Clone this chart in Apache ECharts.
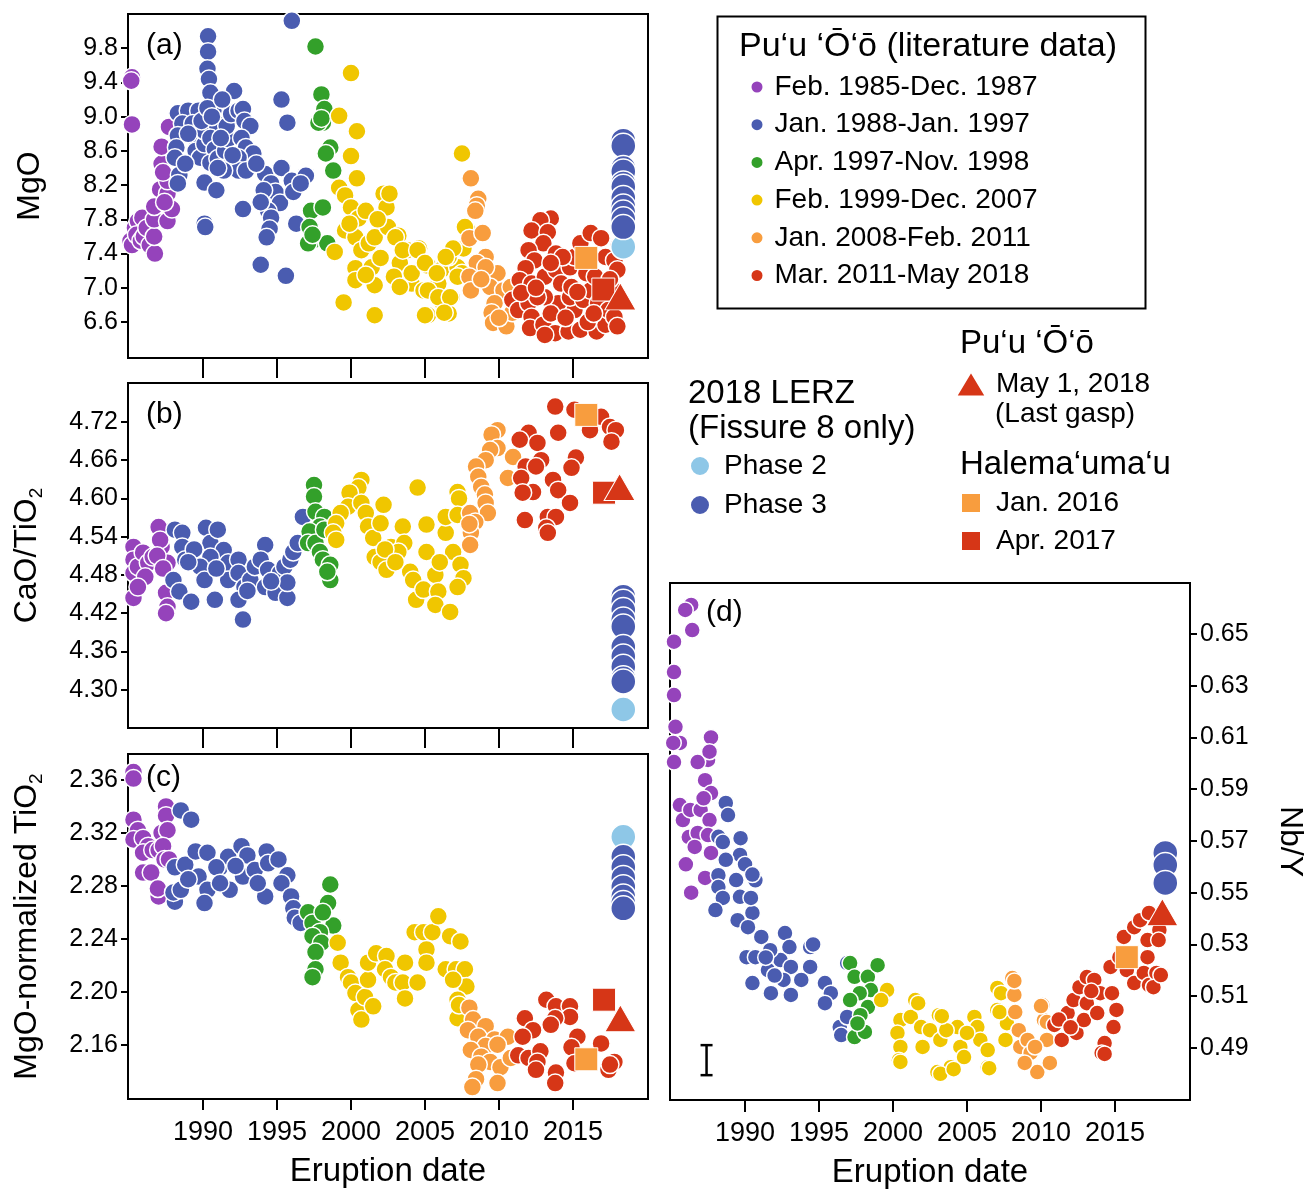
<!DOCTYPE html>
<html>
<head>
<meta charset="UTF-8">
<title>Kilauea lava chemistry</title>
<script src="https://cdn.jsdelivr.net/npm/echarts@6/dist/echarts.min.js"></script>
<style>
body, html { margin: 0; padding: 0; background: #fff; }
#chart { width: 1307px; height: 1191px; }
</style>
</head>
<body>
<div id="chart"></div>
<script>
// ---- data: [eruption year, value] ----
var yearTicks = [1990, 1995, 2000, 2005, 2010, 2015];
var mgoTicks = [6.6, 7.0, 7.4, 7.8, 8.2, 8.6, 9.0, 9.4, 9.8];
var caoTicks = [4.30, 4.36, 4.42, 4.48, 4.54, 4.60, 4.66, 4.72];
var tioTicks = [2.16, 2.20, 2.24, 2.28, 2.32, 2.36];
var nbyTicks = [0.49, 0.51, 0.53, 0.55, 0.57, 0.59, 0.61, 0.63, 0.65];

// (a) MgO
var mgo85 = [[1985.2,9.46],[1985.15,9.42],[1985.2,8.91],[1985.1,7.55],[1985.2,7.5],[1985.4,7.7],[1985.6,7.78],[1985.5,7.62],[1985.8,7.55],[1985.9,7.82],[1986.0,7.6],[1986.2,7.7],[1986.4,7.5],[1986.75,7.4],[1986.7,7.6],[1986.7,7.8],[1986.7,7.95],[1987.1,8.15],[1987.2,8.45],[1987.2,8.65],[1987.6,8.1],[1987.6,7.78],[1987.9,7.92],[1987.7,8.88],[1987.6,8.25],[1987.3,8.35],[1987.4,8.0]];
var mgo88 = [[1996.0,10.12],[1990.34,9.94],[1990.34,9.76],[1990.3,9.56],[1990.4,9.44],[1990.5,9.28],[1992.1,9.3],[1995.3,9.2],[1995.7,8.93],[1988.3,9.04],[1989.0,9.07],[1989.7,9.07],[1988.6,8.92],[1988.3,8.78],[1988.2,8.64],[1988.1,8.52],[1988.4,8.32],[1988.3,8.22],[1989.3,8.92],[1989.5,8.75],[1989.5,8.6],[1989.8,8.52],[1990.1,8.68],[1990.1,8.83],[1990.7,9.07],[1990.9,8.92],[1990.5,8.75],[1990.8,8.62],[1990.5,8.46],[1991.0,8.51],[1991.5,8.6],[1991.7,8.74],[1991.6,8.89],[1991.9,9.03],[1992.4,9.07],[1992.7,9.09],[1992.8,8.95],[1993.2,8.89],[1992.6,8.75],[1992.9,8.64],[1993.4,8.57],[1992.4,8.52],[1991.7,8.4],[1992.4,8.37],[1992.9,8.37],[1991.4,8.37],[1991.0,8.4],[1990.1,8.23],[1990.9,8.14],[1990.1,7.75],[1990.15,7.71],[1992.7,7.92],[1994.2,8.33],[1994.6,8.22],[1995.3,8.4],[1994.9,8.12],[1995.2,7.99],[1994.4,7.9],[1994.6,7.82],[1994.5,7.69],[1994.3,7.59],[1996.0,8.25],[1996.1,8.12],[1996.95,8.31],[1996.6,8.22],[1996.3,7.75],[1993.9,7.27],[1995.6,7.14],[1994.1,8.14],[1993.9,8.0],[1989.0,8.8],[1989.9,8.95],[1991.2,8.75],[1992.0,8.55],[1993.6,8.45],[1988.8,8.45],[1990.3,9.1],[1991.3,9.2],[1990.6,9.0]];
var mgo97 = [[1997.6,9.82],[1998.0,9.26],[1998.2,9.09],[1998.1,8.93],[1997.8,8.93],[1998.6,8.64],[1998.3,8.57],[1998.8,8.37],[1997.3,7.9],[1998.1,7.94],[1997.2,7.71],[1997.5,7.56],[1997.1,7.52],[1998.4,7.52],[1997.4,7.62],[1998.0,8.98]];
var mgo99 = [[2000.0,9.51],[1999.2,9.01],[2000.4,8.83],[2000.0,8.54],[2000.4,8.28],[1999.2,8.17],[1999.6,8.08],[2000.0,7.94],[2000.5,7.81],[2001.0,7.9],[1999.6,7.67],[2000.3,7.59],[2000.7,7.44],[2001.2,7.52],[2001.6,7.59],[2002.3,8.06],[1998.9,7.42],[2000.3,7.23],[2001.4,7.24],[2000.3,7.09],[2001.6,7.03],[1999.5,6.83],[2001.6,6.68],[2002.2,8.1],[2002.4,7.94],[2002.5,7.71],[2003.2,7.61],[2003.8,7.44],[2004.6,7.46],[2003.3,7.29],[2002.9,7.13],[2004.1,7.05],[2005.2,7.26],[2004.9,6.97],[2006.1,7.21],[2005.9,7.05],[2006.8,6.89],[2006.6,6.7],[2005.2,6.68],[2006.2,6.82],[2007.2,7.24],[2007.6,7.46],[2007.9,7.67],[2007.5,8.57],[2007.5,7.17],[2006.6,7.36],[2002.6,8.1],[2003.0,7.59],[2003.5,7.44],[2004.5,7.44],[2004.1,7.17],[2005.0,7.29],[2005.8,7.17],[2005.2,6.97],[2005.9,6.89],[2006.7,6.89],[2005.0,6.68],[2006.3,6.71],[2006.9,7.46],[2006.4,7.36],[2007.7,7.71],[2007.2,7.13],[2003.3,7.01],[1999.9,7.75],[2001.8,7.8],[2002.0,7.35],[2001.0,7.15]];
var mgo08 = [[2008.1,8.28],[2008.6,8.04],[2008.5,7.96],[2008.4,7.9],[2008.0,7.58],[2008.9,7.64],[2009.1,7.36],[2008.5,7.29],[2008.0,7.13],[2009.9,7.17],[2009.4,7.01],[2008.1,6.97],[2010.3,6.97],[2009.7,6.82],[2009.5,6.71],[2009.6,6.59],[2010.5,6.55],[2010.9,6.71],[2010.8,7.01],[2009.1,7.24],[2008.8,7.1],[2010.0,6.65]];
var mgo11 = [[2013.5,7.81],[2012.8,7.79],[2012.2,7.67],[2013.3,7.65],[2013.0,7.52],[2013.85,7.4],[2012.0,7.44],[2012.4,7.32],[2011.8,7.23],[2011.4,7.09],[2012.2,7.05],[2013.1,7.13],[2013.85,7.21],[2014.2,7.05],[2014.8,7.24],[2015.1,7.36],[2015.5,7.52],[2016.2,7.64],[2016.9,7.58],[2017.2,7.36],[2017.8,7.32],[2018.0,7.21],[2010.9,6.86],[2011.3,6.74],[2012.0,6.82],[2012.2,6.66],[2012.1,6.53],[2013.0,6.57],[2013.8,6.47],[2013.1,6.45],[2014.7,6.49],[2015.5,6.51],[2016.6,6.49],[2017.2,6.57],[2016.0,6.6],[2015.1,6.74],[2014.0,6.82],[2013.1,6.89],[2014.8,6.89],[2015.7,6.86],[2016.2,6.97],[2016.7,6.82],[2017.4,6.74],[2017.8,6.66],[2018.0,6.55],[2015.9,7.17],[2014.9,7.01],[2016.5,7.13],[2012.6,6.89],[2011.5,6.94],[2014.3,7.36],[2013.5,7.29],[2012.5,7.0],[2013.5,6.7],[2014.5,6.65],[2015.3,6.95],[2016.4,6.7],[2017.6,7.0],[2018.1,7.5],[2017.5,7.1]];
var mgoPhase2 = [[2018.4,7.48]];
var mgoPhase3 = [[2018.4,8.72],[2018.4,8.66],[2018.4,8.4],[2018.4,8.36],[2018.4,8.22],[2018.4,8.18],[2018.4,8.05],[2018.4,7.95],[2018.4,7.88],[2018.4,7.8],[2018.4,7.71]];
var mgoJan2016 = [[2015.9,7.35]];
var mgoApr2017 = [[2017.05,6.98]];
var mgoLastGasp = [[2018.2,6.9]];

// (b) CaO/TiO2
var cao85 = [[1985.3,4.524],[1985.3,4.504],[1985.3,4.483],[1985.3,4.444],[1985.6,4.493],[1985.95,4.515],[1986.3,4.499],[1986.6,4.508],[1987.0,4.555],[1987.2,4.524],[1987.6,4.499],[1987.5,4.452],[1987.6,4.43],[1987.5,4.42],[1987.1,4.535],[1986.1,4.477],[1985.6,4.461],[1986.9,4.51],[1987.3,4.49]];
var cao88 = [[1988.1,4.551],[1988.6,4.546],[1988.6,4.524],[1988.8,4.504],[1988.0,4.472],[1988.4,4.454],[1989.2,4.438],[1990.2,4.554],[1990.5,4.53],[1991.4,4.519],[1990.5,4.508],[1989.8,4.493],[1990.1,4.472],[1990.8,4.441],[1991.7,4.499],[1992.4,4.504],[1991.7,4.472],[1992.4,4.483],[1992.8,4.461],[1992.4,4.441],[1992.7,4.41],[1993.2,4.472],[1993.5,4.493],[1994.2,4.527],[1993.9,4.504],[1994.4,4.488],[1994.2,4.461],[1994.9,4.452],[1995.7,4.444],[1995.2,4.483],[1995.5,4.493],[1995.9,4.504],[1996.1,4.516],[1996.4,4.53],[1996.75,4.571],[1995.7,4.468],[1989.4,4.52],[1991.0,4.551],[1989.0,4.5],[1990.9,4.49],[1993.0,4.455],[1994.6,4.47]];
var cao97 = [[1997.5,4.621],[1997.5,4.603],[1997.6,4.579],[1998.2,4.571],[1997.9,4.556],[1997.2,4.548],[1997.1,4.53],[1997.6,4.53],[1998.2,4.551],[1997.9,4.516],[1998.1,4.504],[1998.6,4.496],[1998.6,4.472],[1998.4,4.485]];
var cao99 = [[2000.7,4.629],[2000.5,4.617],[1999.9,4.609],[1999.8,4.587],[1999.3,4.577],[1999.0,4.561],[1998.8,4.546],[1999.0,4.535],[2000.7,4.593],[2001.0,4.577],[2001.15,4.556],[2001.5,4.538],[2002.2,4.59],[2002.0,4.561],[2001.6,4.508],[2002.0,4.5],[2002.4,4.488],[2002.7,4.524],[2003.5,4.556],[2003.6,4.53],[2003.2,4.516],[2004.0,4.485],[2004.2,4.472],[2004.4,4.441],[2004.5,4.617],[2005.1,4.559],[2005.1,4.516],[2004.9,4.457],[2005.7,4.48],[2005.9,4.454],[2005.7,4.433],[2006.7,4.422],[2006.4,4.546],[2006.4,4.571],[2007.2,4.61],[2007.3,4.6],[2006.9,4.516],[2007.4,4.496],[2007.6,4.475],[2007.2,4.461],[2007.2,4.574],[2002.3,4.52],[2003.0,4.5],[2006.0,4.5]];
var cao08 = [[2009.9,4.707],[2009.5,4.7],[2009.9,4.679],[2009.4,4.676],[2010.95,4.665],[2009.1,4.66],[2008.45,4.65],[2008.6,4.634],[2010.6,4.632],[2008.8,4.618],[2009.05,4.606],[2009.1,4.593],[2009.25,4.577],[2008.05,4.577],[2008.4,4.563],[2008.1,4.546],[2008.05,4.527],[2008.0,4.56]];
var cao11 = [[2013.8,4.744],[2015.1,4.739],[2016.9,4.728],[2017.5,4.712],[2017.9,4.707],[2017.6,4.689],[2016.15,4.707],[2014.0,4.703],[2012.0,4.703],[2011.4,4.692],[2012.6,4.687],[2012.85,4.66],[2011.8,4.65],[2012.5,4.65],[2015.2,4.664],[2014.9,4.648],[2011.5,4.632],[2013.65,4.629],[2012.3,4.61],[2011.6,4.609],[2014.0,4.613],[2014.8,4.593],[2011.75,4.566],[2013.3,4.571],[2013.85,4.571],[2013.2,4.554],[2013.3,4.546]];
var caoPhase2 = [[2018.4,4.269]];
var caoPhase3 = [[2018.4,4.446],[2018.4,4.438],[2018.4,4.425],[2018.4,4.41],[2018.4,4.399],[2018.4,4.367],[2018.4,4.352],[2018.4,4.336],[2018.4,4.318],[2018.4,4.313]];
var caoJan2016 = [[2015.9,4.731]];
var caoApr2017 = [[2017.1,4.609]];
var caoLastGasp = [[2018.15,4.618]];

// (c) MgO-normalized TiO2
var tio85 = [[1985.3,2.366],[1985.3,2.361],[1985.3,2.33],[1985.6,2.322],[1985.3,2.315],[1985.95,2.316],[1986.3,2.31],[1985.95,2.305],[1986.6,2.307],[1985.95,2.29],[1986.5,2.29],[1987.0,2.307],[1987.2,2.32],[1987.5,2.34],[1987.5,2.333],[1987.6,2.322],[1987.3,2.31],[1987.4,2.3],[1987.0,2.272],[1986.95,2.278],[1987.7,2.3]];
var tio88 = [[1988.5,2.337],[1989.2,2.33],[1988.1,2.294],[1988.8,2.296],[1988.1,2.268],[1988.0,2.275],[1989.5,2.306],[1990.3,2.305],[1989.7,2.287],[1990.3,2.277],[1990.1,2.267],[1988.5,2.277],[1991.15,2.294],[1991.7,2.302],[1991.8,2.277],[1992.6,2.31],[1993.0,2.303],[1992.7,2.287],[1993.5,2.292],[1994.3,2.306],[1994.4,2.297],[1995.1,2.3],[1994.2,2.272],[1993.7,2.282],[1995.7,2.288],[1995.3,2.282],[1995.95,2.272],[1996.1,2.263],[1996.2,2.256],[1996.6,2.252],[1990.9,2.294],[1991.15,2.282],[1989.0,2.285],[1992.2,2.295]];
var tio97 = [[1998.6,2.281],[1998.45,2.267],[1998.8,2.25],[1997.1,2.26],[1997.4,2.252],[1998.1,2.26],[1997.9,2.245],[1997.4,2.242],[1998.0,2.237],[1997.6,2.23],[1997.6,2.217],[1997.4,2.211]];
var tio99 = [[1999.1,2.237],[1999.3,2.222],[1999.8,2.211],[2000.0,2.207],[2000.3,2.199],[2000.5,2.186],[2000.7,2.179],[2000.95,2.196],[2001.5,2.189],[2001.15,2.209],[2001.15,2.222],[2001.7,2.229],[2002.4,2.227],[2002.3,2.217],[2002.7,2.211],[2003.0,2.207],[2003.65,2.222],[2003.5,2.207],[2004.5,2.207],[2003.65,2.195],[2004.3,2.245],[2004.9,2.245],[2005.5,2.245],[2005.9,2.257],[2005.1,2.232],[2005.1,2.222],[2006.7,2.242],[2007.4,2.238],[2006.4,2.217],[2007.1,2.217],[2007.7,2.217],[2007.8,2.204],[2006.9,2.209],[2007.2,2.194],[2007.4,2.184],[2007.2,2.18],[2007.3,2.19]];
var tio08 = [[2008.0,2.188],[2008.25,2.179],[2007.9,2.171],[2009.1,2.174],[2008.6,2.166],[2009.7,2.164],[2010.6,2.166],[2009.1,2.159],[2008.1,2.156],[2008.8,2.151],[2009.4,2.147],[2008.6,2.145],[2010.1,2.143],[2008.45,2.134],[2009.9,2.131],[2010.8,2.15],[2008.2,2.128],[2009.9,2.16]];
var tio11 = [[2011.75,2.18],[2012.3,2.171],[2011.6,2.166],[2013.2,2.194],[2013.85,2.189],[2014.8,2.189],[2014.8,2.181],[2013.8,2.18],[2013.5,2.175],[2011.3,2.152],[2012.0,2.15],[2012.8,2.155],[2012.6,2.147],[2012.5,2.141],[2013.85,2.139],[2013.8,2.131],[2015.3,2.166],[2014.9,2.158],[2015.1,2.146],[2016.9,2.161],[2017.8,2.147],[2017.4,2.141],[2017.5,2.145]];
var tioPhase2 = [[2018.4,2.317]];
var tioPhase3 = [[2018.4,2.302],[2018.4,2.294],[2018.4,2.286],[2018.4,2.279],[2018.4,2.272],[2018.4,2.267],[2018.4,2.263]];
var tioJan2016 = [[2015.9,2.149]];
var tioApr2017 = [[2017.1,2.194]];
var tioLastGasp = [[2018.2,2.18]];

// (d) Nb/Y
var nby85 = [[1986.36,0.6612],[1985.96,0.6593],[1986.43,0.6515],[1985.2,0.647],[1985.2,0.6353],[1985.2,0.6264],[1985.3,0.6141],[1985.6,0.6079],[1985.15,0.6079],[1985.2,0.6005],[1987.7,0.61],[1987.5,0.6013],[1986.8,0.6005],[1987.3,0.5935],[1987.7,0.5885],[1985.6,0.5839],[1985.8,0.5781],[1986.3,0.582],[1987.0,0.582],[1987.6,0.5781],[1986.2,0.5715],[1986.8,0.5731],[1987.5,0.5723],[1986.6,0.5677],[1986.0,0.561],[1986.36,0.55],[1987.3,0.5557],[1987.7,0.5654],[1987.2,0.5865],[1987.6,0.6045]];
var nby88 = [[1988.7,0.5847],[1988.85,0.58],[1988.2,0.5716],[1988.5,0.5696],[1989.7,0.5711],[1989.66,0.5646],[1988.7,0.5627],[1988.2,0.5568],[1988.2,0.5522],[1988.5,0.548],[1988.0,0.5433],[1990.0,0.561],[1990.7,0.5548],[1990.5,0.557],[1989.4,0.5549],[1989.66,0.5484],[1990.5,0.5422],[1989.5,0.5394],[1990.2,0.5367],[1991.1,0.5329],[1990.1,0.5251],[1990.7,0.5251],[1990.5,0.5151],[1991.55,0.5201],[1991.75,0.5112],[1992.7,0.5344],[1993.0,0.529],[1992.4,0.524],[1993.1,0.5213],[1992.6,0.5163],[1993.1,0.5105],[1994.4,0.529],[1994.4,0.5213],[1993.8,0.5163],[1994.6,0.53],[1995.4,0.5151],[1995.8,0.5112],[1995.4,0.5073],[1996.4,0.4981],[1996.9,0.5228],[1996.9,0.502],[1996.5,0.495],[1991.7,0.5278],[1990.4,0.548],[1991.4,0.525],[1992.0,0.518]];
var nby97 = [[1997.1,0.5228],[1997.4,0.5175],[1998.3,0.5175],[1998.96,0.522],[1998.5,0.5124],[1997.75,0.5112],[1997.1,0.5085],[1998.3,0.5058],[1997.8,0.5027],[1997.4,0.4942],[1998.1,0.4962],[1997.6,0.4995]];
var nby99 = [[1999.6,0.5124],[1999.2,0.5085],[2001.5,0.5085],[2000.5,0.5008],[2001.2,0.502],[2000.3,0.4958],[2000.5,0.4904],[2000.4,0.4853],[2001.9,0.4981],[2002.0,0.4904],[2003.1,0.5027],[2002.5,0.4969],[2003.2,0.4931],[2003.0,0.4807],[2003.9,0.4826],[2004.55,0.4904],[2004.8,0.4865],[2005.5,0.502],[2005.7,0.4981],[2005.9,0.4931],[2006.4,0.4826],[2006.4,0.4892],[2007.05,0.5132],[2007.05,0.5047],[2007.6,0.4931],[2007.7,0.4996],[2004.35,0.4981],[2003.6,0.4969],[2005.0,0.4958],[2001.7,0.5073],[2003.3,0.5023],[2003.2,0.48],[2004.1,0.4818],[2006.5,0.4822],[2007.3,0.5112],[2007.2,0.5039],[2000.5,0.4846]];
var nby08 = [[2008.06,0.517],[2008.2,0.5105],[2008.26,0.5039],[2008.5,0.4969],[2008.6,0.4904],[2009.1,0.4931],[2009.3,0.4881],[2009.75,0.4807],[2010.1,0.5066],[2010.2,0.5008],[2010.4,0.4931],[2010.6,0.4842],[2009.6,0.4904],[2008.9,0.4842],[2008.2,0.5159],[2010.0,0.5062],[2010.4,0.5]];
var nby11 = [[2010.9,0.4989],[2011.4,0.4931],[2011.8,0.5035],[2012.2,0.5085],[2012.6,0.5135],[2012.4,0.4958],[2013.1,0.5174],[2013.6,0.5163],[2013.1,0.5073],[2012.9,0.5008],[2014.0,0.5112],[2013.8,0.5035],[2014.3,0.4919],[2014.1,0.4881],[2014.7,0.5213],[2014.8,0.5112],[2015.1,0.5047],[2014.9,0.4981],[2015.6,0.5329],[2015.8,0.5201],[2016.3,0.5367],[2016.7,0.5394],[2017.2,0.5317],[2017.2,0.5251],[2016.3,0.5151],[2016.95,0.519],[2017.3,0.5143],[2017.8,0.519],[2018.0,0.5356],[2017.95,0.5317],[2017.3,0.5422],[2015.3,0.5251],[2014.3,0.4877],[2017.6,0.5135],[2018.1,0.5182],[2011.2,0.501],[2012.0,0.498],[2013.4,0.512]];
var nbyPhase3 = [[2018.4,0.5654],[2018.4,0.5607],[2018.4,0.5538]];
var nbyJan2016 = [[2015.8,0.5251]];
var nbyLastGasp = [[2018.2,0.5425]];
var nbyErrorBar = [[1987.4, 0.4795, 0.4911]];

// ---- style ----
var FONT = "'Liberation Sans', Arial, sans-serif";
var groups = [
    { name: 'Feb. 1985-Dec. 1987', color: '#9543bb' },
    { name: 'Jan. 1988-Jan. 1997', color: '#4a5cb0' },
    { name: 'Apr. 1997-Nov. 1998', color: '#33a02a' },
    { name: 'Feb. 1999-Dec. 2007', color: '#f0c600' },
    { name: 'Jan. 2008-Feb. 2011', color: '#f89d3e' },
    { name: 'Mar. 2011-May 2018', color: '#d63617' }
];
var lightBlue = '#8ec7e7', orange = '#f89d3e', red = '#d63617', blue = '#4a5cb0';

var panels = [
    { grid: { left: 128, top: 14, width: 520, height: 344 }, min: 6.18, max: 10.2, ticks: mgoTicks, dec: 1,
      name: 'MgO', tickLen: 20, xlabel: false,
      lit: [mgo85, mgo88, mgo97, mgo99, mgo08, mgo11], p2: mgoPhase2, p3: mgoPhase3, jan: mgoJan2016, apr: mgoApr2017, tri: mgoLastGasp },
    { grid: { left: 128, top: 383, width: 520, height: 345 }, min: 4.240, max: 4.781, ticks: caoTicks, dec: 2,
      name: '{m|CaO/TiO}{s|2}', tickLen: 20, xlabel: false,
      lit: [cao85, cao88, cao97, cao99, cao08, cao11], p2: caoPhase2, p3: caoPhase3, jan: caoJan2016, apr: caoApr2017, tri: caoLastGasp },
    { grid: { left: 128, top: 754, width: 520, height: 345 }, min: 2.119, max: 2.3796, ticks: tioTicks, dec: 2,
      name: '{m|MgO-normalized TiO}{s|2}', tickLen: 11, xlabel: true,
      lit: [tio85, tio88, tio97, tio99, tio08, tio11], p2: tioPhase2, p3: tioPhase3, jan: tioJan2016, apr: tioApr2017, tri: tioLastGasp },
    { grid: { left: 670, top: 583, width: 520, height: 517 }, min: 0.4699, max: 0.6697, ticks: nbyTicks, dec: 2,
      name: 'Nb/Y', tickLen: 12, xlabel: true, right: true,
      lit: [nby85, nby88, nby97, nby99, nby08, nby11], p2: [], p3: nbyPhase3, jan: nbyJan2016, apr: [], tri: nbyLastGasp }
];

var nameRich = {
    m: { fontSize: 32, fontFamily: FONT, color: '#000', lineHeight: 38 },
    s: { fontSize: 19, fontFamily: FONT, color: '#000', lineHeight: 20, verticalAlign: 'bottom' }
};

var grids = [], xAxes = [], yAxes = [], series = [];
panels.forEach(function (p, i) {
    grids.push(Object.assign({ show: true, borderColor: '#000', borderWidth: 2, outerBoundsMode: 'none', containLabel: false }, p.grid));
    xAxes.push({
        type: 'value', gridIndex: i, min: 1984.93, max: 2020.07,
        axisLine: { show: true, onZero: false, lineStyle: { color: '#000', width: 2 } },
        axisTick: { show: true, customValues: yearTicks, length: p.tickLen, lineStyle: { color: '#000', width: 2 } },
        axisLabel: { show: p.xlabel, customValues: yearTicks, formatter: function (v) { return String(v); },
            fontSize: 27, color: '#000', fontFamily: FONT, margin: 20 },
        splitLine: { show: false },
        name: p.xlabel ? 'Eruption date' : '', nameLocation: 'middle', nameGap: 56, nameMoveOverlap: false,
        nameTextStyle: { fontSize: 33, color: '#000', fontFamily: FONT }
    });
    yAxes.push({
        type: 'value', gridIndex: i, min: p.min, max: p.max, position: p.right ? 'right' : 'left',
        axisLine: { show: true, onZero: false, lineStyle: { color: '#000', width: 2 } },
        axisTick: { show: true, customValues: p.ticks, length: 7, lineStyle: { color: '#000', width: 2 } },
        axisLabel: { customValues: p.ticks, formatter: (function (d) { return function (v) { return v.toFixed(d); }; })(p.dec),
            fontSize: 25, color: '#000', fontFamily: FONT, margin: 10 },
        splitLine: { show: false },
        name: p.name, nameLocation: 'middle', nameRotate: p.right ? -90 : 90, nameGap: p.right ? 84 : 82,
        nameMoveOverlap: false,
        nameTextStyle: { fontSize: 32, color: '#000', fontFamily: FONT, rich: nameRich }
    });

    var litSize = p.right ? 16 : 18, bigSize = 25;
    groups.forEach(function (g, k) {
        series.push({
            type: 'scatter', name: g.name, xAxisIndex: i, yAxisIndex: i, data: p.lit[k],
            symbol: 'circle', symbolSize: litSize, z: 2,
            itemStyle: { color: g.color, borderColor: '#fff', borderWidth: 1.5, opacity: 1 }
        });
    });
    series.push({ type: 'scatter', name: 'Phase 2', xAxisIndex: i, yAxisIndex: i, data: p.p2, symbol: 'circle', symbolSize: bigSize, z: 3,
        itemStyle: { color: lightBlue, borderColor: '#fff', borderWidth: 1.5, opacity: 1 } });
    series.push({ type: 'scatter', name: 'Phase 3', xAxisIndex: i, yAxisIndex: i, data: p.p3, symbol: 'circle', symbolSize: bigSize, z: 3,
        itemStyle: { color: blue, borderColor: '#fff', borderWidth: 1.5, opacity: 1 } });
    series.push({ type: 'scatter', name: 'Jan. 2016', xAxisIndex: i, yAxisIndex: i, data: p.jan, symbol: 'rect', symbolSize: 23, z: 4,
        itemStyle: { color: orange, borderColor: '#fff', borderWidth: 1, opacity: 1 } });
    series.push({ type: 'scatter', name: 'Apr. 2017', xAxisIndex: i, yAxisIndex: i, data: p.apr, symbol: 'rect', symbolSize: 23, z: 4,
        itemStyle: { color: red, borderColor: '#fff', borderWidth: 1, opacity: 1 } });
    series.push({ type: 'scatter', name: 'May 1, 2018', xAxisIndex: i, yAxisIndex: i, data: p.tri, symbol: 'triangle', symbolSize: [31, 27], z: 5,
        itemStyle: { color: red, borderColor: '#fff', borderWidth: 1, opacity: 1 } });
});

// analytical uncertainty bar in (d)
series.push({
    type: 'custom', xAxisIndex: 3, yAxisIndex: 3, data: nbyErrorBar, z: 6,
    encode: { x: 0, y: [1, 2] },
    renderItem: function (params, api) {
        var lo = api.coord([api.value(0), api.value(1)]);
        var hi = api.coord([api.value(0), api.value(2)]);
        var w = 6, st = { stroke: '#000', lineWidth: 2.5 };
        return { type: 'group', children: [
            { type: 'line', shape: { x1: lo[0], y1: lo[1], x2: hi[0], y2: hi[1] }, style: st },
            { type: 'line', shape: { x1: lo[0] - w, y1: lo[1], x2: lo[0] + w, y2: lo[1] }, style: st },
            { type: 'line', shape: { x1: hi[0] - w, y1: hi[1], x2: hi[0] + w, y2: hi[1] }, style: st }
        ] };
    }
});

function txt(left, top, text, size) {
    return { type: 'text', left: left, top: top, z: 10,
        style: { text: text, font: size + 'px ' + FONT, fill: '#000' } };
}
var legText = { fontSize: 28, color: '#000', fontFamily: FONT };

var option = {
    animation: false,
    backgroundColor: '#fff',
    grid: grids,
    xAxis: xAxes,
    yAxis: yAxes,
    series: series,
    legend: [
        { data: groups.map(function (g) { return g.name; }), orient: 'vertical', left: 749.5, top: 73, padding: 0,
          icon: 'circle', itemWidth: 13, itemHeight: 13, itemGap: 9.7, selectedMode: false,
          textStyle: Object.assign({ padding: [0, 0, 0, 6] }, legText) },
        { data: ['Phase 2', 'Phase 3'], orient: 'vertical', left: 689, top: 452, padding: 0,
          icon: 'circle', itemWidth: 20, itemHeight: 20, itemGap: 11, selectedMode: false,
          textStyle: Object.assign({ padding: [0, 0, 0, 9] }, legText) },
        { data: ['May 1, 2018'], orient: 'vertical', left: 955, top: 370, padding: 0,
          icon: 'triangle', itemWidth: 30, itemHeight: 25, selectedMode: false,
          textStyle: Object.assign({ padding: [0, 0, 0, 5] }, legText) },
        { data: ['Jan. 2016', 'Apr. 2017'], orient: 'vertical', left: 960, top: 489, padding: 0,
          icon: 'rect', itemWidth: 20, itemHeight: 20, itemGap: 10, selectedMode: false,
          textStyle: Object.assign({ padding: [0, 0, 0, 10] }, legText) }
    ],
    graphic: [
        { type: 'rect', left: 715, top: 14, z: 10, shape: { width: 428, height: 292 },
          style: { fill: 'none', stroke: '#000', lineWidth: 2 } },
        txt(739, 30, 'Pu\u2018u \u2018\u014C\u2018\u014D (literature data)', 34),
        txt(960, 327, 'Pu\u2018u \u2018\u014C\u2018\u014D', 33),
        txt(995, 400, '(Last gasp)', 28),
        txt(960, 448, 'Halema\u2018uma\u2018u', 33),
        txt(688, 377, '2018 LERZ', 33),
        txt(688, 412, '(Fissure 8 only)', 33),
        txt(146, 31, '(a)', 30),
        txt(146, 400, '(b)', 30),
        txt(146, 763, '(c)', 30),
        txt(706, 598, '(d)', 30)
    ]
};

var myChart = echarts.init(document.getElementById('chart'));
myChart.setOption(option);
</script>
</body>
</html>
